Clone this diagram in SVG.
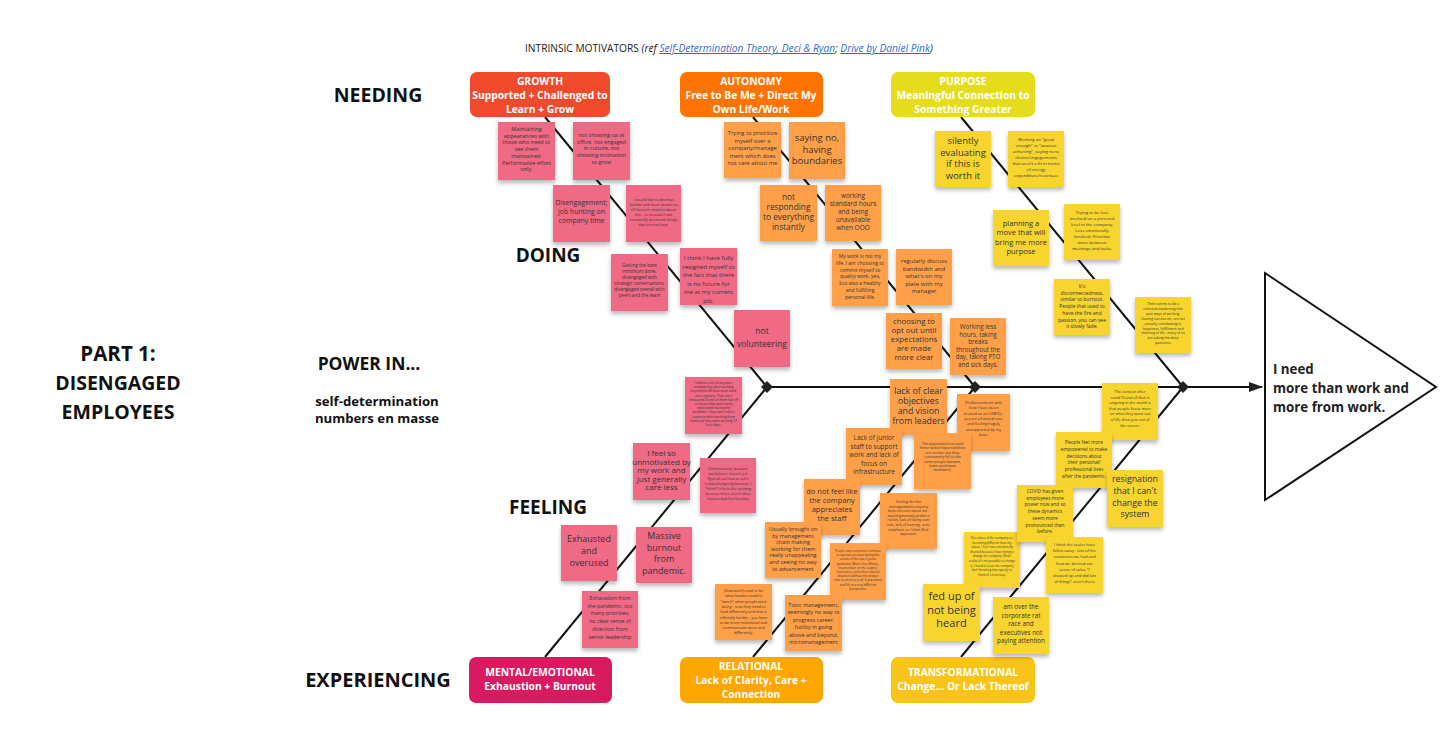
<svg xmlns="http://www.w3.org/2000/svg" width="1456" height="752" viewBox="0 0 1456 752">
<defs>
<filter id="sh" x="-20%" y="-20%" width="140%" height="150%">
<feDropShadow dx="0" dy="3" stdDeviation="2" flood-color="#000" flood-opacity="0.28"/>
</filter>
<marker id="ah" markerWidth="14" markerHeight="10" refX="13" refY="5" orient="auto" markerUnits="userSpaceOnUse">
<path d="M0,0 L14,5 L0,10 Z" fill="#222"/>
</marker>
<style>
text{font-family:"Open Sans","Liberation Sans",sans-serif;}
.lbl{font-weight:700;fill:#111;text-anchor:middle;}
.hdr{font-weight:700;fill:#fff;text-anchor:middle;font-size:10.3px;}
.t{fill:#333;text-anchor:middle;}
.pk{fill:#f06b86;}
.or{fill:#ffa04a;}
.ye{fill:#f8d52f;}
.note{filter:url(#sh);}
.ln{stroke:#111;stroke-width:2;fill:none;}
</style>
</defs>
<rect width="1456" height="752" fill="#fff"/>

<text x="525" y="52" font-size="10.2" fill="#222">INTRINSIC MOTIVATORS  <tspan font-style="italic">(ref </tspan><tspan font-style="italic" fill="#2e6bd8" text-decoration="underline">Self-Determination Theory, Deci &amp; Ryan</tspan><tspan font-style="italic">; </tspan><tspan font-style="italic" fill="#2e6bd8" text-decoration="underline">Drive by Daniel Pink</tspan><tspan font-style="italic">)</tspan></text>

<g id="labels">
<text class="lbl" x="378" y="102" font-size="19.5">NEEDING</text>
<text class="lbl" x="548" y="262" font-size="19">DOING</text>
<text class="lbl" x="369" y="370" font-size="17.5">POWER IN...</text>
<text class="lbl" x="377" y="406" font-size="13.2">self-determination</text>
<text class="lbl" x="377" y="423" font-size="13.2">numbers en masse</text>
<text class="lbl" x="548" y="514" font-size="19">FEELING</text>
<text class="lbl" x="378" y="687" font-size="20">EXPERIENCING</text>
<text class="lbl" x="118" y="361" font-size="20.5">PART 1:</text>
<text class="lbl" x="118" y="390" font-size="19.5">DISENGAGED</text>
<text class="lbl" x="118" y="419" font-size="19.5">EMPLOYEES</text>
</g>

<g id="connectors">
<line class="ln" x1="545" y1="117" x2="767" y2="387"/>
<line class="ln" x1="753" y1="117" x2="975" y2="387"/>
<line class="ln" x1="961" y1="117" x2="1183" y2="387"/>
<line class="ln" x1="767" y1="387" x2="545" y2="657"/>
<line class="ln" x1="975" y1="387" x2="753" y2="657"/>
<line class="ln" x1="1183" y1="387" x2="961" y2="657"/>
<line class="ln" x1="767" y1="387" x2="1262" y2="387" marker-end="url(#ah)"/>
<path d="M767,381 L773,387 L767,393 L761,387 Z" fill="#222"/>
<path d="M975,381 L981,387 L975,393 L969,387 Z" fill="#222"/>
<path d="M1183,381 L1189,387 L1183,393 L1177,387 Z" fill="#222"/>
</g>

<g id="head">
<path d="M1265,273 L1436,387 L1265,500 Z" fill="#fff" stroke="#111" stroke-width="2"/>
<text x="1273" y="374" font-size="13.3" font-weight="700" fill="#222">I need</text>
<text x="1273" y="393" font-size="13.3" font-weight="700" fill="#222">more than work and</text>
<text x="1273" y="412" font-size="13.3" font-weight="700" fill="#222">more from work.</text>
</g>

<g id="growth"><rect x="470" y="72" width="140" height="45" rx="7" fill="#ef4a2b"/>
<text class="hdr" x="540" y="85">GROWTH<tspan x="540" dy="14">Supported + Challenged to</tspan><tspan x="540" dy="14">Learn + Grow</tspan></text></g>
<g id="autonomy"><rect x="680" y="72" width="143" height="45" rx="7" fill="#ff7300"/>
<text class="hdr" x="751" y="85">AUTONOMY<tspan x="751" dy="14">Free to Be Me + Direct My</tspan><tspan x="751" dy="14">Own Life/Work</tspan></text></g>
<g id="purpose"><rect x="891" y="72" width="144" height="45" rx="7" fill="#e5dd1b"/>
<text class="hdr" x="963" y="85">PURPOSE<tspan x="963" dy="14">Meaningful Connection to</tspan><tspan x="963" dy="14">Something Greater</tspan></text></g>
<g id="mental"><rect x="469" y="657" width="143" height="46" rx="7" fill="#d81b60"/>
<text class="hdr" x="540" y="676">MENTAL/EMOTIONAL<tspan x="540" dy="14">Exhaustion + Burnout</tspan></text></g>
<g id="relational"><rect x="680" y="657" width="143" height="46" rx="7" fill="#ffa600"/>
<text class="hdr" x="751" y="670">RELATIONAL<tspan x="751" dy="14">Lack of Clarity, Care +</tspan><tspan x="751" dy="14">Connection</tspan></text></g>
<g id="transformational"><rect x="891" y="657" width="144" height="46" rx="7" fill="#f7c417"/>
<text class="hdr" x="963" y="676">TRANSFORMATIONAL<tspan x="963" dy="14">Change... Or Lack Thereof</tspan></text></g>

<!-- Growth notes -->
<g id="g1"><rect class="note pk" x="498" y="122" width="57" height="58"/>
<text class="t" font-size="5.5" x="526.5" y="131">Maintaining<tspan x="526.5" dy="6.7">appearances with</tspan><tspan x="526.5" dy="6.7">those who need to</tspan><tspan x="526.5" dy="6.7">see them</tspan><tspan x="526.5" dy="6.7">maintained.</tspan><tspan x="526.5" dy="6.7">Performative effort</tspan><tspan x="526.5" dy="6.7">only.</tspan></text></g>
<g id="g2"><rect class="note pk" x="573" y="122" width="57" height="58"/>
<text class="t" font-size="5.5" x="601.5" y="137">not showing up at<tspan x="601.5" dy="6.7">office, not engaged</tspan><tspan x="601.5" dy="6.7">in culture, not</tspan><tspan x="601.5" dy="6.7">showing inclination</tspan><tspan x="601.5" dy="6.7">to grow</tspan></text></g>
<g id="g3"><rect class="note pk" x="553" y="185" width="57" height="57"/>
<text class="t" font-size="6.9" x="581.5" y="205">Disengagement;<tspan x="581.5" dy="9">job hunting on</tspan><tspan x="581.5" dy="9">company time</tspan></text></g>
<g id="g4"><rect class="note pk" x="626" y="185" width="55" height="57"/>
<text class="t" font-size="3.8" x="653.5" y="201">I would like to develop<tspan x="653.5" dy="5">further and have spoken to</tspan><tspan x="653.5" dy="5">all decision-makers about</tspan><tspan x="653.5" dy="5">this - to no avail. I am</tspan><tspan x="653.5" dy="5">constantly promised things</tspan><tspan x="653.5" dy="5">that are not kept.</tspan></text></g>
<g id="g5"><rect class="note pk" x="611" y="254" width="57" height="57"/>
<text class="t" font-size="4.6" x="639.5" y="267">Getting the bare<tspan x="639.5" dy="6">minimum done,</tspan><tspan x="639.5" dy="6">disengaged with</tspan><tspan x="639.5" dy="6">strategic conversations,</tspan><tspan x="639.5" dy="6">disengaged overall with</tspan><tspan x="639.5" dy="6">peers and the team</tspan></text></g>
<g id="g6"><rect class="note pk" x="680" y="248" width="57" height="57"/>
<text class="t" font-size="6.1" x="708.5" y="260">I think I have fully<tspan x="708.5" dy="8.5">resigned myself to</tspan><tspan x="708.5" dy="8.5">the fact that there</tspan><tspan x="708.5" dy="8.5">is no future for</tspan><tspan x="708.5" dy="8.5">me at my current</tspan><tspan x="708.5" dy="8.5">job.</tspan></text></g>
<g id="g7"><rect class="note pk" x="734" y="310" width="56" height="57"/>
<text class="t" font-size="8.5" x="762" y="334">not<tspan x="762" dy="13">volunteering</tspan></text></g>

<!-- Autonomy notes -->
<g id="a1"><rect class="note or" x="724" y="122" width="57" height="56"/>
<text class="t" font-size="5.8" x="752.5" y="135">Trying to prioritize<tspan x="752.5" dy="7.5">myself over a</tspan><tspan x="752.5" dy="7.5">company/manage</tspan><tspan x="752.5" dy="7.5">ment which does</tspan><tspan x="752.5" dy="7.5">not care about me</tspan></text></g>
<g id="a2"><rect class="note or" x="789" y="122" width="56" height="57"/>
<text class="t" font-size="9.5" x="817" y="141">saying no,<tspan x="817" dy="11.5">having</tspan><tspan x="817" dy="11.5">boundaries</tspan></text></g>
<g id="a3"><rect class="note or" x="760" y="185" width="57" height="56"/>
<text class="t" font-size="8.3" x="788.5" y="200">not<tspan x="788.5" dy="10">responding</tspan><tspan x="788.5" dy="10">to everything</tspan><tspan x="788.5" dy="10">instantly</tspan></text></g>
<g id="a4"><rect class="note or" x="825" y="185" width="56" height="56"/>
<text class="t" font-size="6.5" x="853" y="198">working<tspan x="853" dy="8">standard hours</tspan><tspan x="853" dy="8">and being</tspan><tspan x="853" dy="8">unavailable</tspan><tspan x="853" dy="8">when OOO</tspan></text></g>
<g id="a5"><rect class="note or" x="832" y="249" width="56" height="57"/>
<text class="t" font-size="5" x="860" y="258">My work is not my<tspan x="860" dy="6.8">life. I am choosing to</tspan><tspan x="860" dy="6.8">commit myself to</tspan><tspan x="860" dy="6.8">quality work, yes,</tspan><tspan x="860" dy="6.8">but also a healthy</tspan><tspan x="860" dy="6.8">and fulfilling</tspan><tspan x="860" dy="6.8">personal life.</tspan></text></g>
<g id="a6"><rect class="note or" x="896" y="249" width="56" height="56"/>
<text class="t" font-size="6" x="924" y="263">regularly discuss<tspan x="924" dy="7.5">bandwidth and</tspan><tspan x="924" dy="7.5">what's on my</tspan><tspan x="924" dy="7.5">plate with my</tspan><tspan x="924" dy="7.5">manager</tspan></text></g>
<g id="a7"><rect class="note or" x="886" y="313" width="56" height="56"/>
<text class="t" font-size="7.8" x="914" y="324">choosing  to<tspan x="914" dy="9">opt out until</tspan><tspan x="914" dy="9">expectations</tspan><tspan x="914" dy="9">are made</tspan><tspan x="914" dy="9">more clear</tspan></text></g>
<g id="a8"><rect class="note or" x="950" y="318" width="56" height="57"/>
<text class="t" font-size="6.2" x="978" y="329">Working less<tspan x="978" dy="7.5">hours, taking</tspan><tspan x="978" dy="7.5">breaks</tspan><tspan x="978" dy="7.5">throughout the</tspan><tspan x="978" dy="7.5">day, taking PTO</tspan><tspan x="978" dy="7.5">and sick days.</tspan></text></g>

<!-- Purpose notes -->
<g id="p1"><rect class="note ye" x="935" y="131" width="56" height="56"/>
<text class="t" font-size="9.5" x="963" y="144">silently<tspan x="963" dy="11.5">evaluating</tspan><tspan x="963" dy="11.5">if this is</tspan><tspan x="963" dy="11.5">worth it</tspan></text></g>
<g id="p2"><rect class="note ye" x="1008" y="131" width="56" height="56"/>
<text class="t" font-size="4.3" x="1036" y="141">Working on "good<tspan x="1036" dy="6">enough" vs "anxious</tspan><tspan x="1036" dy="6">achieving", saying no to</tspan><tspan x="1036" dy="6">clients/engagements</tspan><tspan x="1036" dy="6">that aren't a fit in terms</tspan><tspan x="1036" dy="6">of energy</tspan><tspan x="1036" dy="6">expenditure/revenues</tspan></text></g>
<g id="p3"><rect class="note ye" x="993" y="210" width="56" height="56"/>
<text class="t" font-size="7.5" x="1021" y="226">planning a<tspan x="1021" dy="9.3">move that will</tspan><tspan x="1021" dy="9.3">bring me more</tspan><tspan x="1021" dy="9.3">purpose</tspan></text></g>
<g id="p4"><rect class="note ye" x="1064" y="204" width="56" height="56"/>
<text class="t" font-size="4.3" x="1092" y="214">Trying to be less<tspan x="1092" dy="6">involved on a personal</tspan><tspan x="1092" dy="6">level in the company.</tspan><tspan x="1092" dy="6">Less emotionally</tspan><tspan x="1092" dy="6">involved. Prioritize</tspan><tspan x="1092" dy="6">more between</tspan><tspan x="1092" dy="6">meetings and tasks.</tspan></text></g>
<g id="p5"><rect class="note ye" x="1054" y="279" width="56" height="56"/>
<text class="t" font-size="5" x="1082" y="288">It's<tspan x="1082" dy="6.7">disconnectedness,</tspan><tspan x="1082" dy="6.7">similar to burnout.</tspan><tspan x="1082" dy="6.7">People that used to</tspan><tspan x="1082" dy="6.7">have the fire and</tspan><tspan x="1082" dy="6.7">passion, you can see</tspan><tspan x="1082" dy="6.7">it slowly fade.</tspan></text></g>
<g id="p6"><rect class="note ye" x="1135" y="297" width="56" height="56"/>
<text class="t" font-size="3.4" x="1163" y="305">There seems to be a<tspan x="1163" dy="4.9">collective awakening that</tspan><tspan x="1163" dy="4.9">past ways of working,</tspan><tspan x="1163" dy="4.9">chasing success etc. are not</tspan><tspan x="1163" dy="4.9">actually contributing to</tspan><tspan x="1163" dy="4.9">happiness, fulfillment and</tspan><tspan x="1163" dy="4.9">meaning in life - many of us</tspan><tspan x="1163" dy="4.9">are asking the deep</tspan><tspan x="1163" dy="4.9">questions.</tspan></text></g>

<!-- Mental notes -->
<g id="m1"><rect class="note pk" x="685" y="377" width="57" height="57"/>
<text class="t" font-size="3.2" x="713.5" y="384">I believe a lot of my peers<tspan x="713.5" dy="4.2">realized they were working</tspan><tspan x="713.5" dy="4.2">beyond the 40 hour work week</tspan><tspan x="713.5" dy="4.2">very regularly. They were</tspan><tspan x="713.5" dy="4.2">exhausted. Some of them laid off</tspan><tspan x="713.5" dy="4.2">or shown they were easily</tspan><tspan x="713.5" dy="4.2">replaceable during the</tspan><tspan x="713.5" dy="4.2">pandemic. They were told to</tspan><tspan x="713.5" dy="4.2">continue while working from</tspan><tspan x="713.5" dy="4.2">home yet they were working 12</tspan><tspan x="713.5" dy="4.2">hour days.</tspan></text></g>
<g id="m2"><rect class="note pk" x="633" y="443" width="57" height="57"/>
<text class="t" font-size="8" x="661.5" y="456">I feel so<tspan x="661.5" dy="8.5">unmotivated by</tspan><tspan x="661.5" dy="8.5">my work and</tspan><tspan x="661.5" dy="8.5">just generally</tspan><tspan x="661.5" dy="8.5">care less</tspan></text></g>
<g id="m3"><rect class="note pk" x="700" y="458" width="56" height="55"/>
<text class="t" font-size="3.7" x="728" y="470">Unfortunately, because<tspan x="728" dy="5">workplaces haven't yet</tspan><tspan x="728" dy="5">figured out how to solve</tspan><tspan x="728" dy="5">residual/ongoing burnout, I</tspan><tspan x="728" dy="5">*think* it feels like quitting</tspan><tspan x="728" dy="5">because there aren't other</tspan><tspan x="728" dy="5">choices that feel healthy.</tspan></text></g>
<g id="m4"><rect class="note pk" x="561" y="525" width="56" height="56"/>
<text class="t" font-size="9" x="589" y="542">Exhausted<tspan x="589" dy="12">and</tspan><tspan x="589" dy="12">overused</tspan></text></g>
<g id="m5"><rect class="note pk" x="636" y="527" width="56" height="56"/>
<text class="t" font-size="9" x="664" y="539">Massive<tspan x="664" dy="11.7">burnout</tspan><tspan x="664" dy="11.7">from</tspan><tspan x="664" dy="11.7">pandemic.</tspan></text></g>
<g id="m6"><rect class="note pk" x="582" y="591" width="56" height="57"/>
<text class="t" font-size="5.3" x="610" y="600">Exhaustion from<tspan x="610" dy="7.7">the pandemic, too</tspan><tspan x="610" dy="7.7">many priorities,</tspan><tspan x="610" dy="7.7">no clear sense of</tspan><tspan x="610" dy="7.7">direction from</tspan><tspan x="610" dy="7.7">senior leadership</tspan></text></g>

<!-- Relational notes -->
<g id="r1"><rect class="note or" x="890" y="379" width="57" height="56"/>
<text class="t" font-size="8.8" x="918.5" y="394">lack of clear<tspan x="918.5" dy="10">objectives</tspan><tspan x="918.5" dy="10">and vision</tspan><tspan x="918.5" dy="10">from leaders</tspan></text></g>
<g id="r2"><rect class="note or" x="957" y="394" width="53" height="57"/>
<text class="t" font-size="3.9" x="983.5" y="404">Disillusionment with<tspan x="983.5" dy="5.3">how I have been</tspan><tspan x="983.5" dy="5.3">treated as an LGBTQ+</tspan><tspan x="983.5" dy="5.3">person of mixed race</tspan><tspan x="983.5" dy="5.3">and feeling hugely</tspan><tspan x="983.5" dy="5.3">unsupported by my</tspan><tspan x="983.5" dy="5.3">boss.</tspan></text></g>
<g id="r3"><rect class="note or" x="846" y="428" width="56" height="57"/>
<text class="t" font-size="6.5" x="874" y="440">Lack of junior<tspan x="874" dy="8.6">staff to support</tspan><tspan x="874" dy="8.6">work and lack of</tspan><tspan x="874" dy="8.6">focus on</tspan><tspan x="874" dy="8.6">infrastructure</tspan></text></g>
<g id="r4"><rect class="note or" x="914" y="433" width="57" height="56"/>
<text class="t" font-size="3.6" x="942.5" y="445">The expectations around<tspan x="942.5" dy="4.4">these tasks/responsibilities</tspan><tspan x="942.5" dy="4.4">are unclear but they</tspan><tspan x="942.5" dy="4.4">consistently fall to the</tspan><tspan x="942.5" dy="4.4">same people (women,</tspan><tspan x="942.5" dy="4.4">lower-paid team</tspan><tspan x="942.5" dy="4.4">members).</tspan></text></g>
<g id="r5"><rect class="note or" x="804" y="479" width="56" height="56"/>
<text class="t" font-size="7.5" x="832" y="494">do not feel like<tspan x="832" dy="9">the company</tspan><tspan x="832" dy="9">appreciates</tspan><tspan x="832" dy="9">the staff</tspan></text></g>
<g id="r6"><rect class="note or" x="880" y="493" width="57" height="56"/>
<text class="t" font-size="3.6" x="908.5" y="503">Feeling like the<tspan x="908.5" dy="4.6">management/company</tspan><tspan x="908.5" dy="4.6">does not care about me -</tspan><tspan x="908.5" dy="4.6">would genuinely prefer a</tspan><tspan x="908.5" dy="4.6">rocket, lack of clarity over</tspan><tspan x="908.5" dy="4.6">role, lack of training, over-</tspan><tspan x="908.5" dy="4.6">emphasis on 'client-first'</tspan><tspan x="908.5" dy="4.6">approach.</tspan></text></g>
<g id="r7"><rect class="note or" x="765" y="522" width="56" height="56"/>
<text class="t" font-size="5.5" x="793" y="531">Usually brought on<tspan x="793" dy="6.6">by management</tspan><tspan x="793" dy="6.6">chain making</tspan><tspan x="793" dy="6.6">working for them</tspan><tspan x="793" dy="6.6">really unappealing</tspan><tspan x="793" dy="6.6">and seeing no way</tspan><tspan x="793" dy="6.6">to advancement</tspan></text></g>
<g id="r8"><rect class="note or" x="830" y="543" width="56" height="57"/>
<text class="t" font-size="3.1" x="858" y="552">People saw companies continue<tspan x="858" dy="4.2">to operate as usual during the</tspan><tspan x="858" dy="4.2">events of the last 2 years:</tspan><tspan x="858" dy="4.2">pandemic, Black Lives Matter,</tspan><tspan x="858" dy="4.2">Insurrection on the Capitol,</tspan><tspan x="858" dy="4.2">hurricanes, and other natural</tspan><tspan x="858" dy="4.2">disasters without the proper</tspan><tspan x="858" dy="4.2">time to process it all. It puts work</tspan><tspan x="858" dy="4.2">and life in a very different</tspan><tspan x="858" dy="4.2">perspective.</tspan></text></g>
<g id="r9"><rect class="note or" x="715" y="584" width="57" height="56"/>
<text class="t" font-size="3.8" x="743.5" y="592">[Overwork] used to be<tspan x="743.5" dy="5.3">what leaders used to</tspan><tspan x="743.5" dy="5.3">"watch" what people were</tspan><tspan x="743.5" dy="5.3">doing - now they need to</tspan><tspan x="743.5" dy="5.3">lead differently and that is</tspan><tspan x="743.5" dy="5.3">infinitely harder - you have</tspan><tspan x="743.5" dy="5.3">to be more intentional and</tspan><tspan x="743.5" dy="5.3">communicate more and</tspan><tspan x="743.5" dy="5.3">differently.</tspan></text></g>
<g id="r10"><rect class="note or" x="785" y="595" width="57" height="56"/>
<text class="t" font-size="5.5" x="813.5" y="607">Toxic management,<tspan x="813.5" dy="7.4">seemingly no way to</tspan><tspan x="813.5" dy="7.4">progress career,</tspan><tspan x="813.5" dy="7.4">futility in going</tspan><tspan x="813.5" dy="7.4">above and beyond,</tspan><tspan x="813.5" dy="7.4">micromanagement</tspan></text></g>

<!-- Transformational notes -->
<g id="t1"><rect class="note ye" x="1102" y="383" width="56" height="57"/>
<text class="t" font-size="3.9" x="1130" y="393">The context after<tspan x="1130" dy="5.6">covid19 and all that is</tspan><tspan x="1130" dy="5.6">ongoing in the world is</tspan><tspan x="1130" dy="5.6">that people focus more</tspan><tspan x="1130" dy="5.6">on what they want out</tspan><tspan x="1130" dy="5.6">of life then just out of</tspan><tspan x="1130" dy="5.6">the career.</tspan></text></g>
<g id="t2"><rect class="note ye" x="1056" y="432" width="56" height="56"/>
<text class="t" font-size="4.8" x="1084" y="444">People feel more<tspan x="1084" dy="6.8">empowered to make</tspan><tspan x="1084" dy="6.8">decisions about</tspan><tspan x="1084" dy="6.8">their personal/</tspan><tspan x="1084" dy="6.8">professional lives</tspan><tspan x="1084" dy="6.8">after the pandemic.</tspan></text></g>
<g id="t3"><rect class="note ye" x="1107" y="470" width="56" height="57"/>
<text class="t" font-size="8.8" x="1135" y="482">resignation<tspan x="1135" dy="11.8">that I can't</tspan><tspan x="1135" dy="11.8">change the</tspan><tspan x="1135" dy="11.8">system</tspan></text></g>
<g id="t6"><rect class="note ye" x="964" y="532" width="56" height="56"/>
<text class="t" font-size="3" x="992" y="539">The values of the company are<tspan x="992" dy="4.6">becoming different than my</tspan><tspan x="992" dy="4.6">values. I feel I was emotionally</tspan><tspan x="992" dy="4.6">drained because I was trying to</tspan><tspan x="992" dy="4.6">change the company. Now I</tspan><tspan x="992" dy="4.6">realize it's not possible to change</tspan><tspan x="992" dy="4.6">it, I need to leave the company</tspan><tspan x="992" dy="4.6">but I'm taking time quietly to</tspan><tspan x="992" dy="4.6">think of a next step.</tspan></text></g>
<g id="t4"><rect class="note ye" x="1017" y="485" width="56" height="57"/>
<text class="t" font-size="4.8" x="1045" y="493">COVID has given<tspan x="1045" dy="6.7">employees more</tspan><tspan x="1045" dy="6.7">power now and so</tspan><tspan x="1045" dy="6.7">these dynamics</tspan><tspan x="1045" dy="6.7">seem more</tspan><tspan x="1045" dy="6.7">pronounced than</tspan><tspan x="1045" dy="6.7">before.</tspan></text></g>
<g id="t5"><rect class="note ye" x="1046" y="537" width="57" height="56"/>
<text class="t" font-size="4" x="1074.5" y="546">I think the scales have<tspan x="1074.5" dy="6.2">fallen away - lots of the</tspan><tspan x="1074.5" dy="6.2">constructs we had and</tspan><tspan x="1074.5" dy="6.2">how we derived our</tspan><tspan x="1074.5" dy="6.2">sense of value "I</tspan><tspan x="1074.5" dy="6.2">showed up and did lots</tspan><tspan x="1074.5" dy="6.2">of things" aren't there</tspan></text></g>
<g id="t7"><rect class="note ye" x="923" y="584" width="57" height="57"/>
<text class="t" font-size="11" x="951.5" y="600">fed up of<tspan x="951.5" dy="13.5">not being</tspan><tspan x="951.5" dy="13.5">heard</tspan></text></g>
<g id="t8"><rect class="note ye" x="993" y="597" width="56" height="57"/>
<text class="t" font-size="6.3" x="1021" y="609">am over the<tspan x="1021" dy="8.6">corporate rat</tspan><tspan x="1021" dy="8.6">race and</tspan><tspan x="1021" dy="8.6">executives not</tspan><tspan x="1021" dy="8.6">paying attention</tspan></text></g>
</svg>
